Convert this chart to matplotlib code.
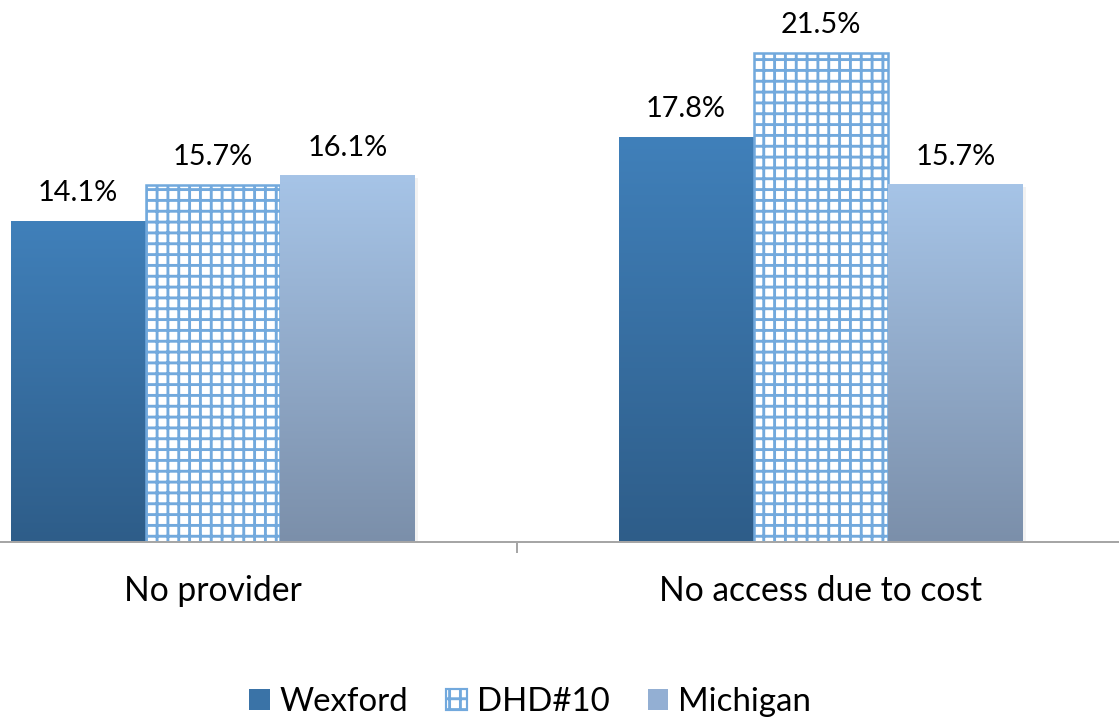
import numpy as np
import matplotlib.pyplot as plt
from matplotlib.colors import LinearSegmentedColormap
from matplotlib.patches import Patch

categories = ["No provider", "No access due to cost"]
series = ["Wexford", "DHD#10", "Michigan"]
wexford = [14.1, 17.8]
dhd10 = [15.7, 21.5]
michigan = [16.1, 15.7]

plt.rcParams['font.family'] = ['Lato', 'DejaVu Sans']
plt.rcParams['hatch.linewidth'] = 1.6

DPI = 130
W, H = 1119, 720
PT = DPI / 72.0  # pixels per point

fig = plt.figure(figsize=(W / DPI, H / DPI), dpi=DPI)
# plot area is wider than the picture (cropped at both sides)
ax = fig.add_axes([-91 / W, (H - 542) / H, 1216 / W, 542 / H])

x = np.arange(len(categories))
bw = 0.222
blue_line = "#72A9DD"

# gradient colours (bottom, top)
wex_cmap = LinearSegmentedColormap.from_list("wex", ["#2E5D89", "#4080BA"])
mich_cmap = LinearSegmentedColormap.from_list("mich", ["#7B8FAA", "#A6C4E7"])
grad = np.linspace(0, 1, 256).reshape(-1, 1)


def gradient_bars(xpos, vals, cmap):
    bars = ax.bar(xpos, vals, bw, color="none", zorder=3)
    for r in bars:
        x0, h = r.get_x(), r.get_height()
        # faint shadow on the right side
        ax.bar(x0 + bw / 2 + 0.004, h - 0.08, bw, color="#000000", alpha=0.05, zorder=1)
        ax.imshow(grad, extent=[x0, x0 + bw, 0, h], origin="lower", cmap=cmap,
                  aspect="auto", zorder=2)
    return bars


b1 = gradient_bars(x - bw, wexford, wex_cmap)
b2 = ax.bar(x, dhd10, bw, facecolor="white", edgecolor=blue_line, hatch="++",
            linewidth=1.4, zorder=2)
b3 = gradient_bars(x + bw, michigan, mich_cmap)

ax.set_xlim(-0.5, 1.5)
ax.set_ylim(0, 542 / 22.75)

for bars in (b1, b2, b3):
    for r in bars:
        ax.annotate(f"{r.get_height():.1f}%",
                    xy=(r.get_x() + bw / 2, r.get_height()),
                    xytext=(0, 20 / PT), textcoords="offset points",
                    ha="center", va="baseline", fontsize=16, color="black")

for xi, cat in zip(x, categories):
    ax.annotate(cat, xy=(xi, 0), xycoords=("data", "axes fraction"),
                xytext=(0, -59 / PT), textcoords="offset points",
                ha="center", va="baseline", fontsize=18.6, color="black")

for s in ("left", "top", "right"):
    ax.spines[s].set_visible(False)
ax.spines["bottom"].set_color("#A6A6A6")
ax.spines["bottom"].set_linewidth(1.1)
ax.set_yticks([])
ax.set_xticks([0.5])
ax.set_xticklabels([""])
ax.tick_params(axis="x", length=11 / PT, width=1.1, color="#A6A6A6", direction="out")

handles = [
    Patch(facecolor="#3A73A7", edgecolor="none"),
    Patch(facecolor="white", edgecolor=blue_line, hatch="++", linewidth=1.2),
    Patch(facecolor="#93AFD3", edgecolor="none"),
]
fig.legend(handles, series, loc="center", bbox_to_anchor=(530 / W, 1 - 702 / H),
           ncol=3, frameon=False, fontsize=18.3, handlelength=0.63, handleheight=0.63,
           handletextpad=0.3, columnspacing=1.15, borderpad=0)

fig.savefig("out.png", dpi=DPI)
